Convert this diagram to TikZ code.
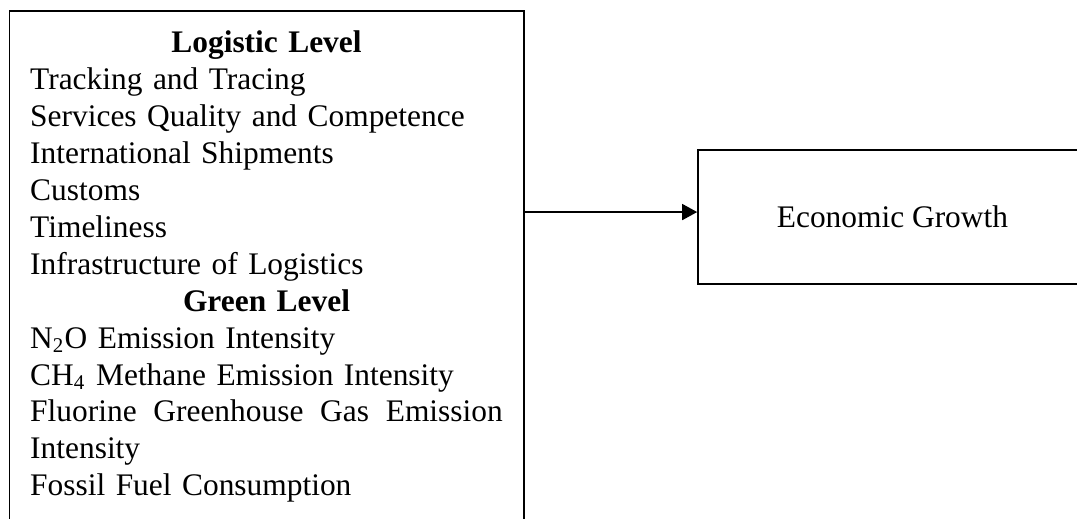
\documentclass[tikz,border=0pt]{standalone}
\usepackage{fontspec}
\setmainfont{Liberation Serif}
\usetikzlibrary{arrows.meta,positioning}

\begin{document}
\begin{tikzpicture}[
      every node/.style={rectangle,draw,line width=0.6pt,font=\fontsize{12}{14.1}\selectfont},
      factors/.style={anchor=north west,text width=180.5pt,inner xsep=8pt,inner ysep=6.2pt,align=left},
      outcome/.style={anchor=west,minimum width=148.6pt,minimum height=51.2pt,align=center},
      link/.style={line width=0.6pt,-{Triangle[length=5.7pt,width=6.1pt]}},
   ]
   \useasboundingbox (0,0) rectangle (411.4pt,-197.9pt);

   \node[factors] (lbox) at (3.25pt,-3.82pt) {\strut\hfill\textbf{Logistic Level}\hfill\null\\
      Tracking and Tracing\\
      Services Quality and Competence\\
      International Shipments\\
      Customs\\
      Timeliness\\
      Infrastructure of Logistics\\
      \hfill\textbf{Green Level}\hfill\null\\
      N\textsubscript{2}O Emission Intensity\\
      CH\textsubscript{4} Methane Emission Intensity\\
      Fluorine\hfill Greenhouse\hfill Gas\hfill Emission\\
      Intensity\\
      Fossil Fuel Consumption\rule[-12pt]{0pt}{1pt}};

   \node[outcome] (econ) at (266.3pt,-82.9pt) {Economic Growth};

   \coordinate (tip) at ([yshift=1.9pt]econ.west);
   \draw[link] (tip -| lbox.east) -- (tip);
\end{tikzpicture}
\end{document}
